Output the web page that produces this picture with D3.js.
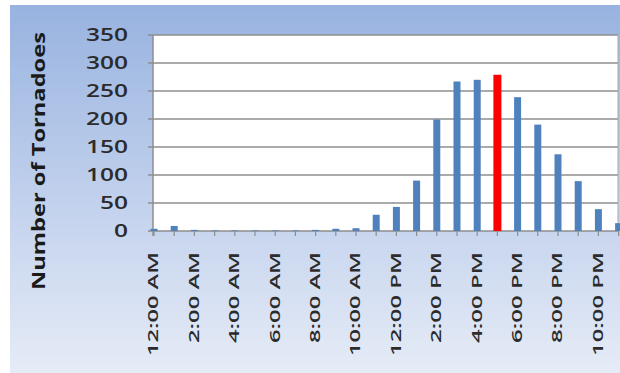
<!DOCTYPE html>
<html>
<head>
<meta charset="utf-8">
<script src="https://cdn.jsdelivr.net/npm/d3@7"></script>
<style>
  body { margin: 0; background: #fff; }
  svg { display: block; }
</style>
</head>
<body>
<svg id="chart"></svg>
<script>
var hours = ["12:00 AM", "1:00 AM", "2:00 AM", "3:00 AM", "4:00 AM", "5:00 AM",
  "6:00 AM", "7:00 AM", "8:00 AM", "9:00 AM", "10:00 AM", "11:00 AM",
  "12:00 PM", "1:00 PM", "2:00 PM", "3:00 PM", "4:00 PM", "5:00 PM",
  "6:00 PM", "7:00 PM", "8:00 PM", "9:00 PM", "10:00 PM", "11:00 PM"];
var tornadoes = [4, 9, 2, 1, 1, 1, 1, 1, 2, 4, 5, 29, 43, 90, 199, 267, 270, 279, 239, 190, 137, 89, 39, 14];
var highlightHour = "5:00 PM";
var yTicks = [0, 50, 100, 150, 200, 250, 300, 350];
var yTitle = "Number of Tornadoes";

var width = 620, height = 373;
var svg = d3.select("#chart").attr("width", width).attr("height", height);
var font = "'Open Sans', 'Noto Sans', sans-serif";

// background gradient
var defs = svg.append("defs");
var grad = defs.append("linearGradient").attr("id", "bg")
  .attr("x1", 0).attr("y1", 0).attr("x2", 0).attr("y2", 1);
grad.append("stop").attr("offset", "0%").attr("stop-color", "#98b3e0");
grad.append("stop").attr("offset", "55%").attr("stop-color", "#c3d2ed");
grad.append("stop").attr("offset", "100%").attr("stop-color", "#e6ecf7");

svg.append("rect")
  .attr("x", 10).attr("y", 5)
  .attr("width", width - 10).attr("height", height - 5)
  .attr("fill", "url(#bg)");

var plot = { left: 153, right: 618, top: 35, bottom: 231 };

var x = d3.scalePoint().domain(hours).range([154, 154 + 20.2 * 23]);
var y = d3.scaleLinear().domain([0, 350]).range([plot.bottom, plot.top]);

// plot area
svg.append("rect")
  .attr("x", plot.left).attr("y", plot.top)
  .attr("width", plot.right - plot.left).attr("height", plot.bottom - plot.top)
  .attr("fill", "#ffffff");

// grid lines + y ticks
svg.selectAll(".grid")
  .data(yTicks)
  .enter()
  .append("line")
  .attr("class", "grid")
  .attr("x1", plot.left - 5)
  .attr("x2", plot.right)
  .attr("y1", function (d) { return y(d); })
  .attr("y2", function (d) { return y(d); })
  .attr("stroke", "#8e8e8e")
  .attr("stroke-width", 1.5);

// right border
svg.append("line")
  .attr("x1", plot.right).attr("x2", plot.right)
  .attr("y1", plot.top).attr("y2", plot.bottom)
  .attr("stroke", "#a8a8a8");

// y axis line
svg.append("line")
  .attr("x1", plot.left).attr("x2", plot.left)
  .attr("y1", plot.top).attr("y2", plot.bottom + 5)
  .attr("stroke", "#8e8e8e")
  .attr("stroke-width", 1.5);

// x tick marks
svg.selectAll(".xtick")
  .data(hours)
  .enter()
  .append("line")
  .attr("class", "xtick")
  .attr("x1", function (d) { return x(d); })
  .attr("x2", function (d) { return x(d); })
  .attr("y1", plot.bottom)
  .attr("y2", plot.bottom + 5)
  .attr("stroke", "#8e8e8e")
  .attr("stroke-width", 1.2);

// bars
svg.append("g")
  .selectAll("rect")
  .data(hours)
  .enter()
  .append("rect")
  .attr("x", function (d) { return x(d) - (d === highlightHour ? 4 : 3.5); })
  .attr("width", function (d) { return d === highlightHour ? 8 : 7; })
  .attr("y", function (d, i) { return y(tornadoes[i]); })
  .attr("height", function (d, i) { return plot.bottom - y(tornadoes[i]); })
  .attr("fill", function (d) { return d === highlightHour ? "#ff0000" : "#4f81bd"; });

// y tick labels
svg.selectAll(".ylab")
  .data(yTicks)
  .enter()
  .append("text")
  .attr("class", "ylab")
  .attr("x", 128)
  .attr("y", function (d) { return y(d); })
  .attr("dy", "0.36em")
  .attr("text-anchor", "end")
  .attr("textLength", function (d) { return String(d).length * 14; })
  .attr("lengthAdjust", "spacingAndGlyphs")
  .style("font-family", font)
  .style("font-size", "18px")
  .style("font-weight", 600)
  .style("fill", "#2b2b2b")
  .text(function (d) { return d; });

// x tick labels (every 2 hours)
svg.selectAll(".xlab")
  .data(hours.filter(function (d, i) { return i % 2 === 0; }))
  .enter()
  .append("text")
  .attr("class", "xlab")
  .attr("transform", function (d) { return "translate(" + (x(d) - 1) + ",252)rotate(-90)"; })
  .attr("dy", "0.36em")
  .attr("text-anchor", "end")
  .attr("textLength", function (d) { return d.length * 13; })
  .attr("lengthAdjust", "spacingAndGlyphs")
  .style("font-family", font)
  .style("font-size", "15px")
  .style("font-weight", 600)
  .style("fill", "#2b2b2b")
  .text(function (d) { return d; });

// y axis title
svg.append("text")
  .attr("transform", "translate(39,161)rotate(-90)")
  .attr("dy", "0.36em")
  .attr("text-anchor", "middle")
  .attr("textLength", 258)
  .attr("lengthAdjust", "spacingAndGlyphs")
  .style("font-family", font)
  .style("font-size", "17px")
  .style("font-weight", "bold")
  .style("fill", "#1a1a1a")
  .text(yTitle);
</script>
</body>
</html>
